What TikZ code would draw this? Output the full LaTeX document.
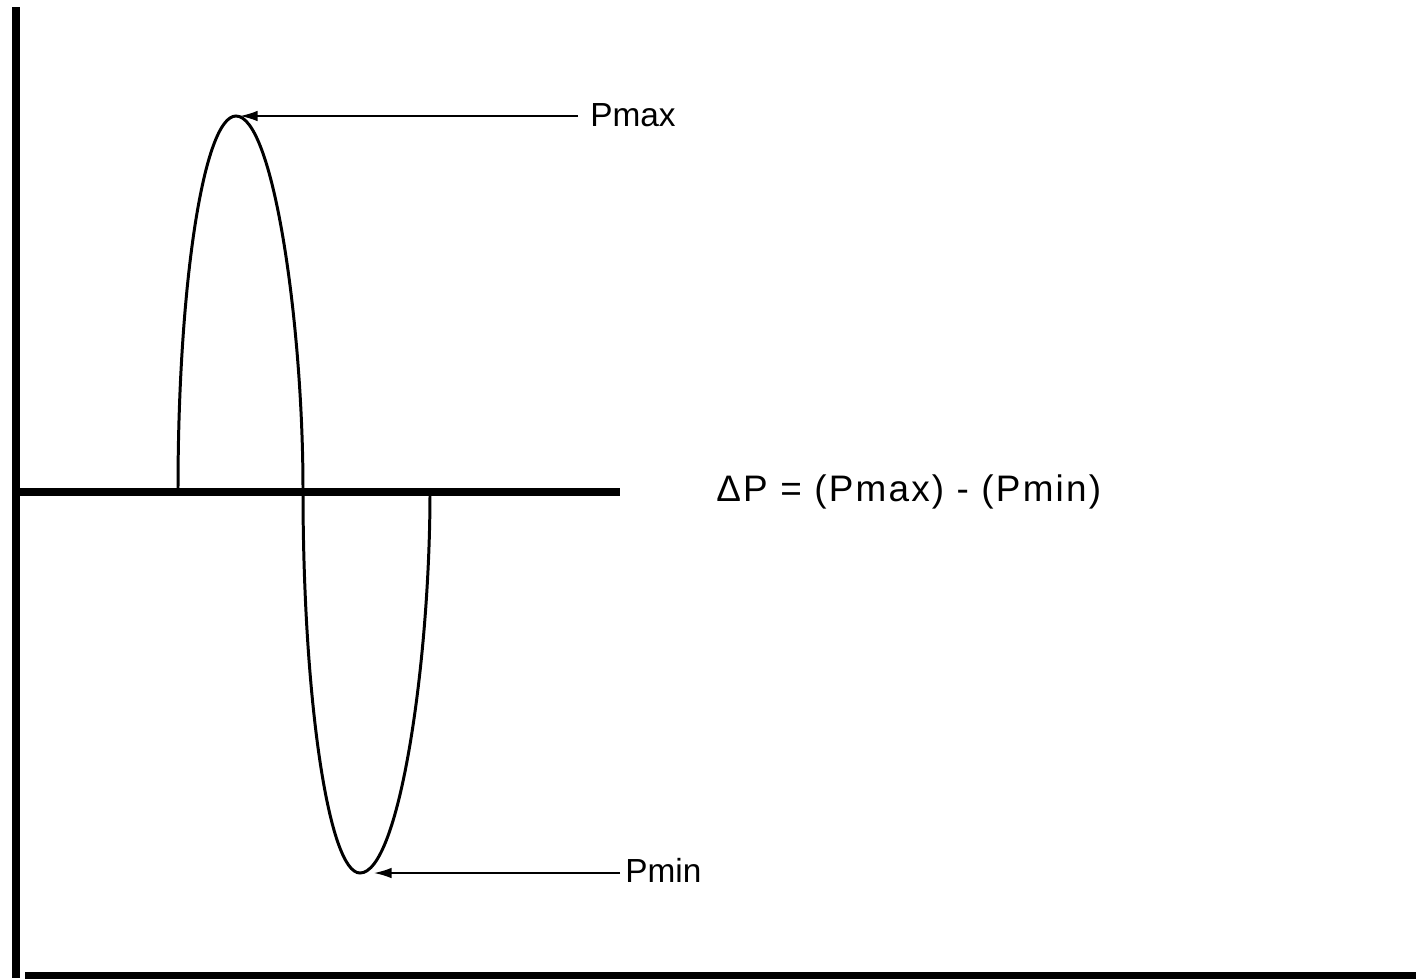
\documentclass[tikz,border=0pt]{standalone}
\usepackage{fontspec}
\setmainfont{Liberation Sans}
\usetikzlibrary{arrows.meta, positioning}

\begin{document}
\begin{tikzpicture}[x=0.02cm, y=-0.02cm,
    axisline/.style={line width=5pt},
    wave/.style={line width=1.7pt},
    pointer/.style={line width=0.9pt, -{Latex[length=10pt, width=6pt]}},
    lbl/.style={inner sep=0pt, font=\fontsize{19}{23}\selectfont}]
    \useasboundingbox (0,0) rectangle (1416,978);
    % axes
    \draw[axisline] (16,7) -- (16,978);
    \draw[axisline] (25,976) -- (1416,976);
    \draw[line width=4.5pt] (14,492) -- (620,492);
    % pressure wave
    \coordinate (peak) at (240,116);
    \coordinate (trough) at (374,873);
    \draw[wave] (178,490) .. controls (178,283) and (204,116) .. (236,116)
        .. controls (273,116) and (303,322) .. (303,490)
        .. controls (303,701) and (329,873) .. (360,873)
        .. controls (399,873) and (430,663) .. (430,492);
    % labels
    \node[lbl, anchor=west] (pmax) at (590,115) {Pmax};
    \node[lbl, anchor=west] (pmin) at (625,870) {Pmin};
    \node[lbl, anchor=west, font=\fontsize{21}{25}\selectfont\addfontfeature{LetterSpace=6}]
        (dp) at (716,492) {ΔP = (Pmax) - (Pmin)};
    \draw[pointer] (pmax.west |- peak) ++(-12,0) -- (peak);
    \draw[pointer] (pmin.west |- trough) ++(-5,0) -- (trough);
\end{tikzpicture}
\end{document}
